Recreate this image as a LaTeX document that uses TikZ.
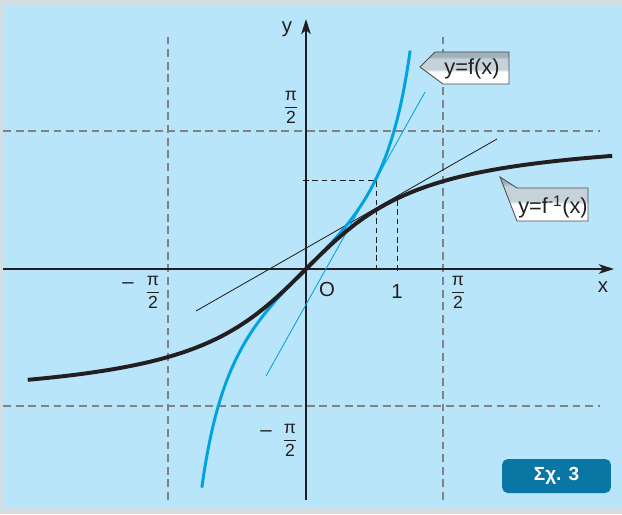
\documentclass[tikz,border=0pt]{standalone}
\usepackage{amsmath}
\usepackage{fontspec}
\setmainfont{Liberation Sans}
\usetikzlibrary{arrows.meta}
\definecolor{frame}{HTML}{D3DDE2}
\definecolor{panel}{HTML}{B8E5F9}
\definecolor{limit}{HTML}{828282}
\definecolor{ink}{HTML}{231F20}
\definecolor{fblue}{HTML}{00A3E0}
\definecolor{tag}{HTML}{0A76A4}
\definecolor{bandA}{HTML}{627A8B}
\definecolor{bandB}{HTML}{9FB1BD}
\definecolor{bandC}{HTML}{C6D2D9}
\pgfdeclareverticalshading{banner}{100bp}{color(0bp)=(white); color(44bp)=(white);
  color(48bp)=(bandC); color(64bp)=(bandC); color(68bp)=(bandB); color(78bp)=(bandB);
  color(82bp)=(bandA); color(100bp)=(bandA)}
\newcommand{\halfpi}{$\dfrac{\textnormal{π}}{\textnormal{2}}$}

\begin{document}
\begin{tikzpicture}[x=0.025cm,y=0.025cm,
  font=\fontsize{14.5}{16}\selectfont, text=ink,
  axis/.style={line width=0.9pt, draw=ink, -{Stealth[length=3.8mm, width=2.4mm, inset=1mm]}},
  limitline/.style={draw=limit, line width=2pt, dash pattern=on 5.6pt off 3.4pt},
  guide/.style={draw=ink, line width=0.6pt, dash pattern=on 4pt off 2.6pt},
  touch/.style={line width=0.6pt},
  fcurve/.style={draw=fblue, line width=2.1pt},
  finvcurve/.style={draw=ink, line width=2.8pt},
  frac/.style={font=\fontsize{12.5}{14}\selectfont, inner sep=0pt},
  flag/.style={shading=banner, draw=ink!80, line width=0.6pt},
  flagtext/.style={font=\fontsize{15.5}{17}\selectfont, inner sep=0pt}]

\path[use as bounding box] (0,0) rectangle (622,514);

% ------------------------------------------------------------------ background
\fill[frame] (0,0) rectangle (622,514);
\fill[panel] (3,7) rectangle (622,509);

% ------------------------------------------------------------ asymptote lines
\draw[limitline] (3,383) -- (600,383);
\draw[limitline] (3,108) -- (600,108);
\draw[limitline] (168,14) -- (168,482);
\draw[limitline] (443,14) -- (443,482);

% ------------------------------------------------------------------------ axes
\coordinate (xL) at (3,245);
\coordinate (xR) at (614,245);
\coordinate (yB) at (306,14);
\coordinate (yT) at (306,495);
\draw[axis] (xL) -- (xR);
\draw[axis] (yB) -- (yT);
\node (xlab) at (603,227) {x};
\node (ylab) at (287,485) {y};
\node (origin) at (327,225) {O};
\node (one) at (397,223) {1};

% pi/2 marks
\node[frac] (hpx) at (458,222) {\halfpi};
\node[frac] (nhpx) at (153,222) {\halfpi};
\node (nhpxm) at (128,228) {–};
\node[frac] (hpy) at (291,407) {\halfpi};
\node[frac] (nhpy) at (290,74) {\halfpi};
\node (nhpym) at (266,80) {–};

% symmetric points (pi/4, 1) and (1, pi/4)
\coordinate (ytick) at (303,334);
\coordinate (ponf) at (376,334);
\coordinate (ponfx) at (376,241);
\coordinate (ponfinv) at (397,314);
\coordinate (ponfinvx) at (397,241);
\draw[guide] (ytick) -- (ponf) -- (ponfx);
\draw[guide] (ponfinv) -- (ponfinvx);

% tangents
\draw[touch, draw=fblue] (266,138) -- (425,422);
\draw[touch, draw=ink] (196,203) -- (497,375);

% ---------------------------------------------------------------------- curves
\begin{scope}[shift={(306,245)}, x=2.1875cm, y=2.1875cm]
  \draw[fcurve] plot[domain=-1.19:1.19, samples=140, smooth] (\x,{tan(\x r)});
  \draw[finvcurve] plot[domain=-3.18:3.5, samples=120, smooth] (\x,{rad(atan(\x))});
\end{scope}

% ---------------------------------------------------------------------- labels
\shade[flag] (435,462) -- (509,462) -- (509,430) -- (443,430) -- (420,447) -- cycle;
\node[flagtext] (ftag) at (472,445) {y=f(x)};
\shade[flag] (500,337) -- (517,326) -- (588,326) -- (588,293) -- (517,293) -- cycle;
\node[flagtext] (finvtag) at (553,307) {y=f\textsuperscript{-1}(x)};

\node[fill=tag, rounded corners=4pt, minimum width=2.72cm, minimum height=0.85cm,
  text=white, font=\fontsize{13.5}{15}\selectfont\bfseries] (fig) at (556.5,38) {Σχ. 3};
\end{tikzpicture}
\end{document}
